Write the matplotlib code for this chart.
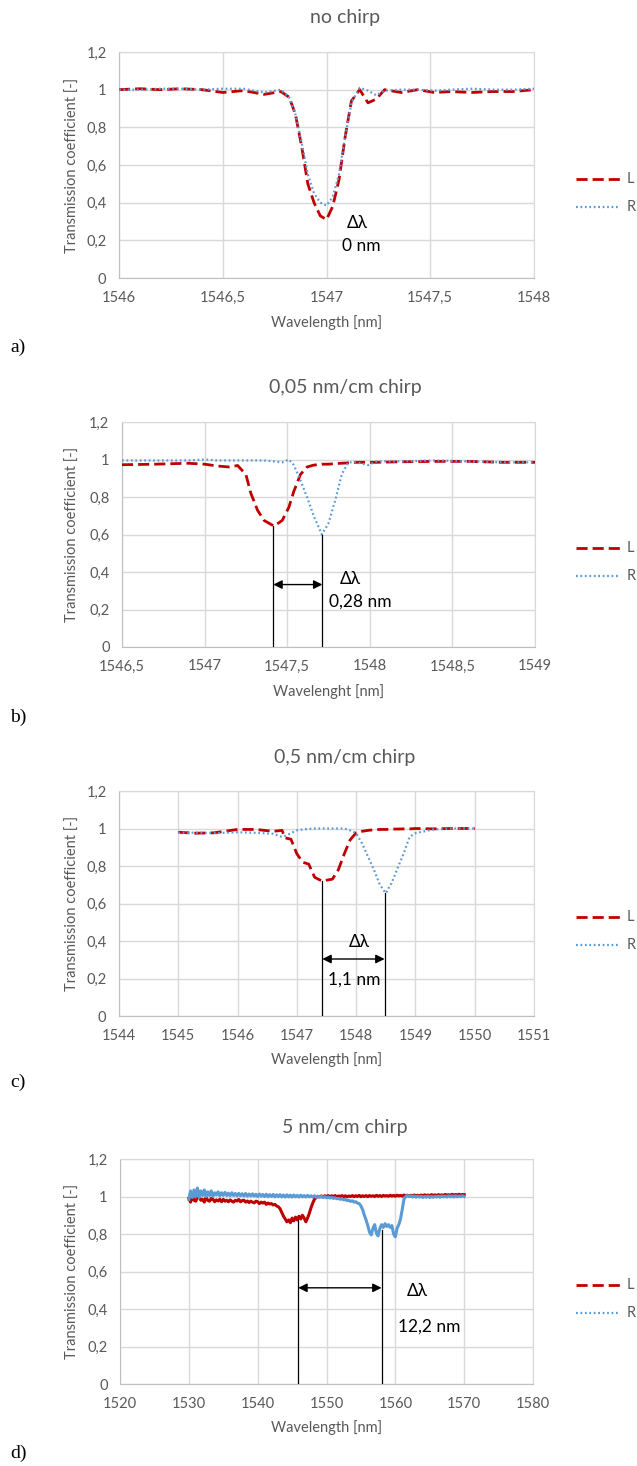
import numpy as np
import matplotlib
matplotlib.use("Agg")
import matplotlib.pyplot as plt
from matplotlib.lines import Line2D

plt.rcParams['font.family'] = ['Lato', 'DejaVu Sans']

RED = '#C00000'
BLUE = '#5B9BD5'
GREY_TXT = '#595959'
GRID = '#D9D9D9'

# ---- data ----
titles = ['no chirp', '0,05 nm/cm chirp', '0,5 nm/cm chirp', '5 nm/cm chirp']
xlabels = ['Wavelength [nm]', 'Wavelenght [nm]', 'Wavelength [nm]', 'Wavelength [nm]']
ylabel = 'Transmission coefficient [-]'
letters = ['a)', 'b)', 'c)', 'd)']

yticks = [0, 0.2, 0.4, 0.6, 0.8, 1.0, 1.2]
ytick_labels = ['0', '0,2', '0,4', '0,6', '0,8', '1', '1,2']

a_xticks = [1546, 1546.5, 1547, 1547.5, 1548]
a_xtick_labels = ['1546', '1546,5', '1547', '1547,5', '1548']
b_xticks = [1546.5, 1547, 1547.5, 1548, 1548.5, 1549]
b_xtick_labels = ['1546,5', '1547', '1547,5', '1548', '1548,5', '1549']
c_xticks = [1544, 1545, 1546, 1547, 1548, 1549, 1550, 1551]
c_xtick_labels = ['1544', '1545', '1546', '1547', '1548', '1549', '1550', '1551']
d_xticks = [1520, 1530, 1540, 1550, 1560, 1570, 1580]
d_xtick_labels = ['1520', '1530', '1540', '1550', '1560', '1570', '1580']

a_x = [1546.0, 1546.1, 1546.2, 1546.3, 1546.4, 1546.5, 1546.6, 1546.7, 1546.78, 1546.82,
       1546.85, 1546.88, 1546.91, 1546.94, 1546.97, 1547.0, 1547.03, 1547.06, 1547.09, 1547.12,
       1547.16, 1547.2, 1547.24, 1547.28, 1547.36, 1547.44, 1547.52, 1547.6, 1547.7, 1547.8,
       1547.9, 1548.0]
a_L = [1.0, 1.005, 1.0, 1.005, 1.0, 0.985, 0.995, 0.975, 0.99, 0.96,
       0.87, 0.70, 0.50, 0.40, 0.33, 0.31, 0.38, 0.52, 0.75, 0.94,
       1.0, 0.93, 0.95, 1.0, 0.985, 1.0, 0.985, 0.99, 0.985, 0.99,
       0.99, 1.0]
a_R = [1.0, 1.0, 1.005, 1.005, 1.0, 1.005, 1.005, 0.985, 1.0, 0.96,
       0.87, 0.72, 0.55, 0.45, 0.40, 0.385, 0.43, 0.55, 0.75, 0.93,
       1.01, 0.995, 0.97, 0.995, 1.0, 1.0, 0.995, 1.0, 1.005, 1.0,
       1.0, 1.005]

b_x = [1546.5, 1546.7, 1546.9, 1547.0, 1547.08, 1547.15, 1547.2, 1547.25, 1547.28, 1547.32,
       1547.36, 1547.42, 1547.47, 1547.51, 1547.54, 1547.58, 1547.62, 1547.66, 1547.71, 1547.75,
       1547.79, 1547.83, 1547.87, 1547.92, 1547.99, 1548.04, 1548.2, 1548.4, 1548.6, 1548.8,
       1549.0]
b_L = [0.972, 0.975, 0.98, 0.975, 0.965, 0.96, 0.968, 0.92, 0.82, 0.73,
       0.675, 0.645, 0.675, 0.745, 0.83, 0.92, 0.96, 0.97, 0.975, 0.975,
       0.978, 0.98, 0.982, 0.985, 0.985, 0.985, 0.988, 0.99, 0.99, 0.985,
       0.985]
b_R = [0.995, 0.995, 0.995, 1.0, 0.995, 0.995, 0.995, 0.995, 0.995, 0.995,
       0.995, 0.99, 0.985, 1.0, 0.97, 0.89, 0.80, 0.70, 0.60, 0.66,
       0.78, 0.92, 0.985, 0.985, 0.97, 0.99, 0.99, 0.995, 0.99, 0.985,
       0.985]

c_x = [1545.0, 1545.3, 1545.6, 1546.0, 1546.3, 1546.6, 1546.75, 1546.8, 1546.9, 1547.0,
       1547.1, 1547.2, 1547.3, 1547.42, 1547.6, 1547.7, 1547.8, 1547.9, 1548.0, 1548.1,
       1548.2, 1548.3, 1548.4, 1548.5, 1548.6, 1548.7, 1548.8, 1548.9, 1549.0, 1549.3,
       1549.6, 1550.0]
c_L = [0.98, 0.975, 0.977, 0.995, 0.995, 0.985, 0.99, 0.95, 0.943, 0.865,
       0.82, 0.81, 0.74, 0.72, 0.73, 0.78, 0.865, 0.94, 0.977, 0.985,
       0.99, 0.993, 0.995, 0.995, 0.997, 0.997, 0.998, 0.998, 1.0, 0.998,
       1.0, 1.0]
c_R = [0.977, 0.978, 0.975, 0.98, 0.977, 0.972, 0.955, 0.96, 0.975, 0.99,
       0.995, 0.998, 1.0, 1.0, 1.0, 1.0, 1.0, 0.99, 0.975, 0.92,
       0.85, 0.78, 0.70, 0.655, 0.71, 0.79, 0.865, 0.955, 0.975, 0.995,
       1.0, 1.0]

# measured spectra, one sample every 0.25 nm from 1530 to 1570 nm
d_x = [1530 + 0.25 * i for i in range(161)]
d_L = [0.99, 0.97, 1.005, 0.98, 0.975, 0.995, 1.0, 0.98,
       0.985, 0.97, 0.995, 0.98, 0.975, 0.99, 0.985, 0.972,
       0.982, 0.976, 0.985, 0.972, 0.985, 0.975, 0.98, 0.972,
       0.982, 0.975, 0.97, 0.98, 0.976, 0.984, 0.972, 0.978,
       0.98, 0.97, 0.976, 0.968, 0.975, 0.97, 0.966, 0.975,
       0.972, 0.962, 0.97, 0.965, 0.97, 0.958, 0.965, 0.96,
       0.962, 0.955, 0.958, 0.95, 0.945, 0.935, 0.915, 0.895,
       0.88, 0.865, 0.875, 0.86, 0.885, 0.87, 0.89, 0.875,
       0.895, 0.88, 0.9, 0.885, 0.865, 0.885, 0.91, 0.94,
       0.965, 0.985, 0.995, 1.0, 0.998, 1.003, 0.997, 1.004,
       0.999, 1.005, 0.998, 1.004, 1.0, 1.005, 0.998, 1.003,
       1.0, 1.005, 0.999, 1.004, 0.998, 1.003, 1.0, 1.005,
       0.999, 1.004, 1.0, 1.006, 0.999, 1.004, 1.0, 1.005,
       0.999, 1.005, 1.001, 1.004, 1.0, 1.006, 1.001, 1.005,
       1.0, 1.006, 1.002, 1.005, 1.001, 1.007, 1.002, 1.006,
       1.001, 1.007, 1.003, 1.006, 1.002, 1.008, 1.003, 1.007,
       1.002, 1.007, 1.003, 1.008, 1.004, 1.007, 1.003, 1.008,
       1.004, 1.009, 1.005, 1.008, 1.004, 1.01, 1.005, 1.009,
       1.005, 1.01, 1.006, 1.009, 1.006, 1.011, 1.007, 1.01,
       1.006, 1.012, 1.007, 1.011, 1.008, 1.012, 1.008, 1.011,
       1.01]
d_R = [0.985, 1.03, 0.995, 1.035, 1.0, 1.045, 0.995, 1.03,
       1.005, 1.035, 1.0, 1.025, 1.005, 1.03, 1.0, 1.02,
       1.008, 1.025, 1.003, 1.02, 1.006, 1.022, 1.005, 1.018,
       1.004, 1.02, 1.005, 1.016, 1.003, 1.017, 1.004, 1.015,
       1.003, 1.016, 1.002, 1.013, 1.003, 1.014, 1.002, 1.012,
       1.0, 1.013, 1.001, 1.011, 1.0, 1.012, 0.999, 1.01,
       1.0, 1.011, 0.998, 1.009, 0.999, 1.01, 0.998, 1.008,
       0.997, 1.009, 0.998, 1.007, 0.997, 1.008, 0.998, 1.006,
       0.997, 1.007, 0.998, 1.005, 0.997, 1.006, 0.998, 1.004,
       0.997, 1.004, 0.996, 1.002, 0.996, 1.001, 0.995, 0.999,
       0.993, 0.997, 0.992, 0.995, 0.99, 0.993, 0.988, 0.99,
       0.985, 0.988, 0.982, 0.984, 0.978, 0.98, 0.974, 0.977,
       0.97, 0.972, 0.965, 0.962, 0.95, 0.93, 0.9, 0.875,
       0.845, 0.81, 0.795, 0.83, 0.85, 0.805, 0.79, 0.83,
       0.85, 0.835, 0.855, 0.84, 0.85, 0.835, 0.845, 0.8,
       0.785, 0.83, 0.85, 0.88, 0.93, 0.985, 1.0, 1.005,
       1.0, 1.004, 0.997, 1.003, 0.996, 1.002, 0.997, 1.001,
       0.995, 1.0, 0.996, 1.002, 0.995, 1.0, 0.996, 1.001,
       0.997, 1.002, 0.996, 1.003, 0.998, 1.002, 0.997, 1.004,
       0.998, 1.003, 0.997, 1.004, 0.998, 1.003, 0.999, 1.004,
       1.0]

# minima marked by vertical lines (wavelength, transmission); None = not marked
peaks_L = [None, (1547.416, 0.645), (1547.43, 0.72), (1545.9, 0.876)]
peaks_R = [None, (1547.713, 0.60), (1548.48, 0.655), (1558.0, 0.822)]
arrow_y = [None, 0.333, 0.304, 0.513]
dl_text = ['0 nm', '0,28 nm', '1,1 nm', '12,2 nm']
dl_pos = [((1547.15, 0.29), (1547.17, 0.17)),
          ((1547.88, 0.365), (1547.94, 0.24)),
          ((1548.06, 0.396), (1547.96, 0.195)),
          ((1563.2, 0.494), (1565.0, 0.307))]

panels = [
    (a_x, a_L, a_x, a_R, a_xticks, a_xtick_labels, 'dash'),
    (b_x, b_L, b_x, b_R, b_xticks, b_xtick_labels, 'dash'),
    (c_x, c_L, c_x, c_R, c_xticks, c_xtick_labels, 'dash'),
    (d_x, d_L, d_x, d_R, d_xticks, d_xtick_labels, 'solid'),
]

# axes rectangles in pixels (left, top, right, bottom) on a 637x1466 canvas
W, H = 637, 1466
boxes = [(119, 52, 534, 278), (122, 422, 535, 647), (119, 791, 534, 1016), (120, 1159, 533, 1384)]
title_y = [18, 387, 757, 1127]
xlabel_y = [323, 692, 1060, 1428]
letter_y = [347, 717, 1082, 1453]

fig = plt.figure(figsize=(W / 100, H / 100), dpi=100)

for i, (xl, yl, xr, yr, xt, xtl, style) in enumerate(panels):
    l, t, r, b = boxes[i]
    ax = fig.add_axes([l / W, 1 - b / H, (r - l) / W, (b - t) / H])
    if style == 'dash':
        ax.plot(xl, yl, color=RED, lw=2.0, dashes=(4, 1.8), zorder=3)
        ax.plot(xr, yr, color=BLUE, lw=1.6, dashes=(0.8, 1.2), zorder=4)
    else:
        ax.plot(xl, yl, color=RED, lw=2.2, zorder=3)
        ax.plot(xr, yr, color=BLUE, lw=2.2, zorder=4)

    ax.set_xlim(xt[0], xt[-1])
    ax.set_ylim(0, 1.2)
    ax.set_xticks(xt)
    ax.set_xticklabels(xtl)
    ax.set_yticks(yticks)
    ax.set_yticklabels(ytick_labels)
    ax.tick_params(length=0, labelsize=10.5, labelcolor=GREY_TXT, pad=9)
    ax.grid(True, color=GRID, lw=1.0)
    ax.set_axisbelow(True)
    for s in ['top', 'right']:
        ax.spines[s].set_color(GRID)
    for s in ['left', 'bottom']:
        ax.spines[s].set_color('#BFBFBF')

    # peak markers and delta-lambda arrow
    if peaks_L[i] is not None:
        for px, py in (peaks_L[i], peaks_R[i]):
            ax.plot([px, px], [0, py], color='black', lw=0.9, zorder=5)
        ax.annotate('', xy=(peaks_R[i][0], arrow_y[i]), xytext=(peaks_L[i][0], arrow_y[i]),
                    arrowprops=dict(arrowstyle='<|-|>', color='black', lw=1.0,
                                    mutation_scale=13, shrinkA=0, shrinkB=0), zorder=6)
    (dx, dy), (tx, ty) = dl_pos[i]
    ax.text(dx, dy, 'Δλ', fontsize=12.5, color='black', ha='center', va='center', zorder=7)
    ax.text(tx, ty, dl_text[i], fontsize=12.5, color='black', ha='center', va='center', zorder=7)

    # legend drawn beside the axes
    for k, (lab, col, lw, dsh) in enumerate([('L', RED, 2.0, (4, 1.8)), ('R', BLUE, 1.6, (0.8, 1.2))]):
        yy = 0.438 - k * 0.124
        ax.add_line(Line2D([(576 - l) / (r - l), (620 - l) / (r - l)], [yy, yy], color=col, lw=lw,
                           dashes=dsh, transform=ax.transAxes, clip_on=False))
        ax.text((627 - l) / (r - l), yy, lab, transform=ax.transAxes, fontsize=10.5,
                color=GREY_TXT, ha='left', va='center')

    fig.text(345 / W, 1 - title_y[i] / H, titles[i], fontsize=14, color=GREY_TXT,
             ha='center', va='center')
    fig.text((l + r) / 2 / W, 1 - xlabel_y[i] / H, xlabels[i], fontsize=10.5, color=GREY_TXT,
             ha='center', va='center')
    fig.text(73 / W, 1 - (t + b) / 2 / H, ylabel, fontsize=10.5, color=GREY_TXT,
             ha='center', va='center', rotation=90)
    fig.text(10 / W, 1 - letter_y[i] / H, letters[i], fontsize=14, color='black',
             family='Liberation Serif', ha='left', va='center')

fig.savefig('out.png', dpi=100)
